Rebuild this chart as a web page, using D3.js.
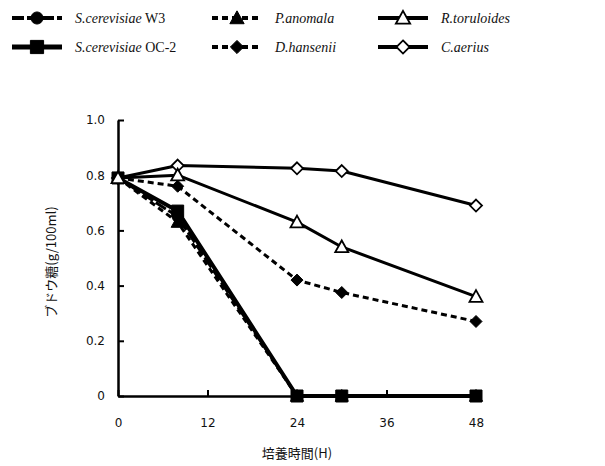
<!DOCTYPE html>
<html><head><meta charset="utf-8">
<script src="https://cdn.jsdelivr.net/npm/d3@7"></script>
<style>body{margin:0;background:#fff}svg{display:block}</style>
</head><body>
<svg id="c" width="605" height="466"></svg>
<script>
const hours = [0, 8, 24, 30, 48];
const seriesNames = ["S.cerevisiae W3", "S.cerevisiae OC-2", "P.anomala", "D.hansenii", "R.toruloides", "C.aerius"];
const w3 = [0.79, 0.65, 0, 0, 0];
const oc2 = [0.79, 0.67, 0, 0, 0];
const anomala = [0.79, 0.63, 0, 0, 0];
const hansenii = [0.79, 0.76, 0.42, 0.375, 0.27];
const toruloides = [0.79, 0.80, 0.63, 0.54, 0.36];
const aerius = [0.79, 0.835, 0.825, 0.815, 0.69];
const xTicks = [0, 12, 24, 36, 48];
const yTicks = [0, 0.2, 0.4, 0.6, 0.8, 1.0];

const series = [
  {name: seriesNames[0], vals: w3, dash: "12,3", w: 3, sym: "circle", fill: "#000", col: 0, row: 0},
  {name: seriesNames[1], vals: oc2, dash: null, w: 4, sym: "square", fill: "#000", col: 0, row: 1},
  {name: seriesNames[2], vals: anomala, dash: "6,4", w: 3, sym: "triangle", fill: "#000", col: 1, row: 0},
  {name: seriesNames[3], vals: hansenii, dash: "6,4", w: 3, sym: "diamond", fill: "#000", col: 1, row: 1},
  {name: seriesNames[4], vals: toruloides, dash: null, w: 3, sym: "triangle", fill: "#fff", col: 2, row: 0},
  {name: seriesNames[5], vals: aerius, dash: null, w: 3, sym: "diamond", fill: "#fff", col: 2, row: 1}
];
const drawOrder = [5, 3, 0, 2, 1, 4];

const svg = d3.select("#c");
const x = d3.scaleLinear().domain([0, 48]).range([118, 476]);
const y = d3.scaleLinear().domain([0, 1]).range([396, 120]);

function symPath(s, k) {
  const p = d3.path();
  if (s === "circle") { p.arc(0, 0, 5.5 * k, 0, 2 * Math.PI); }
  else if (s === "square") { const h = 6 * k; p.rect(-h, -h, 2 * h, 2 * h); }
  else if (s === "triangle") { const h = 6.5 * k; p.moveTo(0, -h); p.lineTo(h, h * 0.8); p.lineTo(-h, h * 0.8); p.closePath(); }
  else { const h = 6 * k; p.moveTo(0, -h); p.lineTo(h, 0); p.lineTo(0, h); p.lineTo(-h, 0); p.closePath(); }
  return p.toString();
}

// axes
const xAxis = d3.axisBottom(x).tickValues(xTicks).tickSizeInner(-6).tickSizeOuter(0).tickPadding(22);
const yAxis = d3.axisLeft(y).tickValues(yTicks).tickSizeInner(-6).tickSizeOuter(0).tickPadding(13)
  .tickFormat(d => d === 0 ? "0" : d3.format(".1f")(d));
const gx = svg.append("g").attr("transform", "translate(0,396)").call(xAxis);
const gy = svg.append("g").attr("transform", "translate(118,0)").call(yAxis);
[gx, gy].forEach(g => {
  g.select(".domain").attr("stroke", "#000").attr("stroke-width", 2.5);
  g.selectAll(".tick line").attr("stroke", "#000").attr("stroke-width", 2);
  g.selectAll(".tick text").attr("font-family", "DejaVu Sans, Verdana, sans-serif").attr("font-size", 12).attr("fill", "#111");
});

// lines
const line = d3.line().x((d, i) => x(hours[i])).y(d => y(d));
series.forEach(s => {
  svg.append("path").attr("d", line(s.vals)).attr("fill", "none").attr("stroke", "#000")
    .attr("stroke-width", s.w).attr("stroke-dasharray", s.dash).attr("stroke-linejoin", "round");
});
drawOrder.forEach(j => {
  const s = series[j];
  svg.append("g").selectAll("path").data(s.vals).join("path")
    .attr("d", symPath(s.sym, 1))
    .attr("transform", (d, i) => `translate(${x(hours[i])},${y(d)})`)
    .attr("fill", s.fill).attr("stroke", "#000").attr("stroke-width", s.fill === "#fff" ? 1.8 : 1);
});

// legend
const colX = [12, 212, 378];
const rowY = [18, 47];
series.forEach(s => {
  const lx = colX[s.col], ly = rowY[s.row];
  const g = svg.append("g");
  g.append("line").attr("x1", lx).attr("x2", lx + 50).attr("y1", ly).attr("y2", ly)
    .attr("stroke", "#000").attr("stroke-width", s.w + 1).attr("stroke-dasharray", s.dash);
  g.append("path").attr("d", symPath(s.sym, 1.1)).attr("transform", `translate(${lx + 25},${ly})`)
    .attr("fill", s.fill).attr("stroke", "#000").attr("stroke-width", s.fill === "#fff" ? 1.8 : 1);
  const parts = s.name.split(" ");
  const t = g.append("text").attr("x", lx + 63).attr("y", ly + 5)
    .attr("font-family", "Liberation Serif, Times New Roman, serif").attr("font-size", 14).attr("fill", "#111");
  t.append("tspan").attr("font-style", "italic").text(parts[0]);
  if (parts[1]) t.append("tspan").text(" " + parts[1]);
});

// axis titles
svg.append("text").attr("x", 297).attr("y", 458).attr("text-anchor", "middle")
  .attr("font-family", "Noto Sans CJK JP, sans-serif").attr("font-size", 13).attr("fill", "#111").text("培養時間(H)");
svg.append("text").attr("transform", "translate(56,262) rotate(-90)").attr("text-anchor", "middle")
  .attr("font-family", "Noto Sans CJK JP, sans-serif").attr("font-size", 13).attr("fill", "#111").text("ブドウ糖(g/100ml)");
</script>
</body></html>
